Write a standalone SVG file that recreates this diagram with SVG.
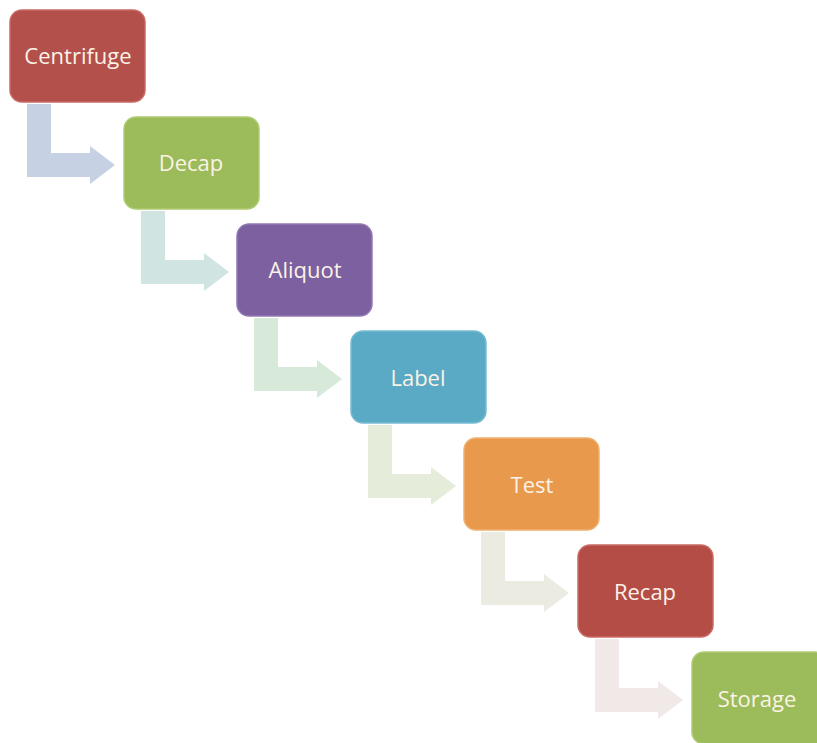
<svg xmlns="http://www.w3.org/2000/svg" width="817" height="743" viewBox="0 0 817 743">
<style>
.box{stroke-width:1.5}
.lbl{font-family:"Open Sans","Liberation Sans",sans-serif;font-size:22px;fill:#fbf3e6;text-anchor:middle;dominant-baseline:central}
</style>
<defs>
<path id="arr" d="M17 94 H41 V143 H80 V136 L105 155 L80 174 V167 H17 Z"/>
</defs>
<rect width="817" height="743" fill="#ffffff"/>
<g id="connectors">
<use href="#arr" transform="translate(10,10)" fill="#c6d1e4"/>
<use href="#arr" transform="translate(124,117)" fill="#d0e4e2"/>
<use href="#arr" transform="translate(237,224)" fill="#d7eada"/>
<use href="#arr" transform="translate(351,331)" fill="#e6ecda"/>
<use href="#arr" transform="translate(464,438)" fill="#ebebe2"/>
<use href="#arr" transform="translate(578,545)" fill="#f1e8e8"/>
</g>
<g id="centrifuge"><rect class="box" x="10" y="10" width="135" height="92" rx="12" fill="#b4504b" stroke="#c86a63"/><text class="lbl" x="78" y="55">Centrifuge</text></g>
<g id="decap"><rect class="box" x="124" y="117" width="135" height="92" rx="12" fill="#9cbb5a" stroke="#b0cc72"/><text class="lbl" x="191" y="162">Decap</text></g>
<g id="aliquot"><rect class="box" x="237" y="224" width="135" height="92" rx="12" fill="#7c60a0" stroke="#9279b3"/><text class="lbl" x="305" y="269">Aliquot</text></g>
<g id="label"><rect class="box" x="351" y="331" width="135" height="92" rx="12" fill="#5aa9c5" stroke="#78bcd4"/><text class="lbl" x="418" y="377">Label</text></g>
<g id="test"><rect class="box" x="464" y="438" width="135" height="92" rx="12" fill="#e8994b" stroke="#f0b070"/><text class="lbl" x="532" y="484">Test</text></g>
<g id="recap"><rect class="box" x="578" y="545" width="135" height="92" rx="12" fill="#b54d47" stroke="#c96a63"/><text class="lbl" x="645" y="591">Recap</text></g>
<g id="storage"><rect class="box" x="692" y="652" width="135" height="92" rx="12" fill="#9cbb5a" stroke="#b0cc72"/><text class="lbl" x="757" y="698">Storage</text></g>
</svg>
